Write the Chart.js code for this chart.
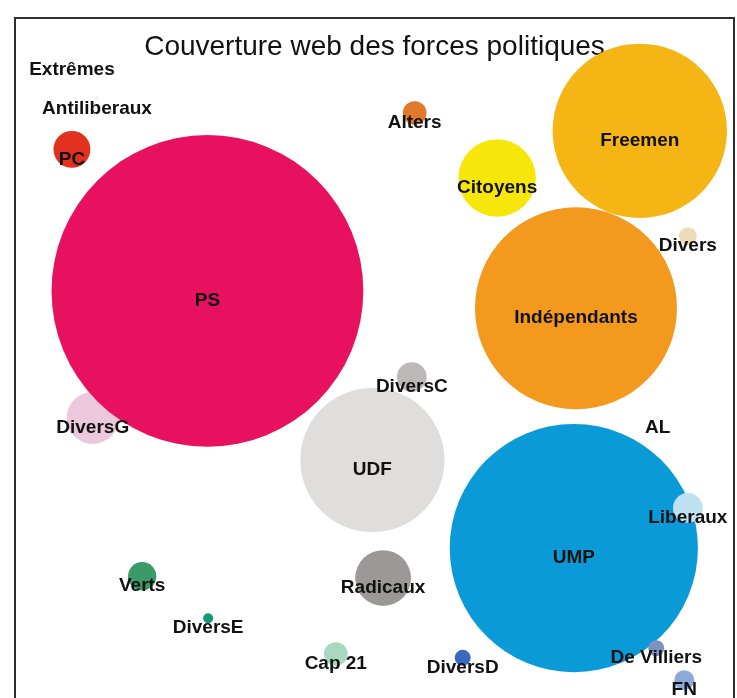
<!DOCTYPE html>
<html><head><meta charset="utf-8">
<script src="https://cdn.jsdelivr.net/npm/chart.js@4/dist/chart.umd.min.js"></script>
<style>
html,body{margin:0;padding:0;background:#fff;overflow:hidden;width:737px;height:698px}
#frame{position:absolute;left:14px;top:17px;width:721px;height:720px;border:2px solid #2e2e2e;box-sizing:border-box;}
#c{position:absolute;left:16px;top:19px;}
</style></head><body>
<div id="frame"></div>
<canvas id="c" width="717" height="679"></canvas>
<script>
// Partis (ordre de dessin)
const partis = ["Extrêmes","Antiliberaux","PC","Alters","Freemen","Citoyens","Divers","DiversG","PS","Indépendants","UDF","DiversC","AL","UMP","Liberaux","De Villiers","Radicaux","Verts","DiversE","Cap 21","DiversD","FN"];
// Couverture web (taille relative des bulles)
const couverture = [0.05,0.05,3.4,1.4,76,15,0.8,6.8,243,102,52,2.2,0.05,154,2.2,0.64,7.8,2.0,0.25,1.4,0.64,1.0];
// Position sur la carte (0-100)
const posX = [7.8,11.3,7.8,55.6,87.0,67.1,93.7,10.7,26.7,78.1,49.7,55.2,89.5,77.8,93.7,89.3,51.2,17.6,26.8,44.6,62.3,93.2];
const posY = [100,94.0,86.0,91.7,88.9,81.5,72.4,43.9,63.8,61.1,37.3,50.3,43.9,23.5,29.8,7.8,18.8,19.1,12.5,6.9,6.3,2.8];
const titre = "Couverture web des forces politiques";

const couleurs = ["#f4f4f4","#f4f4f4","#e0321e","#e07a2a","#f5b514","#f7e60a","#ecdcb8","#ecc8dc","#e8115f","#f39a1e","#e0dddd","#bdb8b8","#f4f4f4","#0a9ad8","#bfe0f0","#8090c0","#9c9898","#3a9a6a","#109a7a","#a8d8c0","#3a6ac0","#8ea8d8"];

const donnees = partis.map((p,i)=>({x:posX[i], y:posY[i], r:Math.sqrt(couverture[i])*10}));

const etiquettes = {
  id:'etiquettes',
  afterDatasetsDraw(chart){
    const ctx=chart.ctx; const meta=chart.getDatasetMeta(0);
    ctx.save();
    ctx.font='bold 19px "Liberation Sans", Arial, sans-serif';
    ctx.fillStyle='#111';
    ctx.textAlign='center'; ctx.textBaseline='middle';
    meta.data.forEach((el,i)=>{ ctx.fillText(partis[i], el.x, el.y+10); });
    ctx.restore();
  }
};

new Chart(document.getElementById('c'), {
  type:'bubble',
  data:{ datasets:[{ label:'Couverture', data:donnees, backgroundColor:couleurs, borderWidth:0, clip:false, hoverRadius:0 }]},
  options:{
    responsive:false, animation:false,
    layout:{padding:0, autoPadding:false},
    events:[],
    scales:{
      x:{type:'linear', min:0, max:100, display:false},
      y:{type:'linear', min:0, max:100, display:false}
    },
    plugins:{
      legend:{display:false},
      tooltip:{enabled:false},
      title:{display:true, text:titre, color:'#111', font:{family:'"Liberation Sans", Arial, sans-serif', size:28, weight:'normal', lineHeight:0.93}, padding:{top:15,bottom:0}}
    }
  },
  plugins:[etiquettes]
});
</script>
</body></html>
